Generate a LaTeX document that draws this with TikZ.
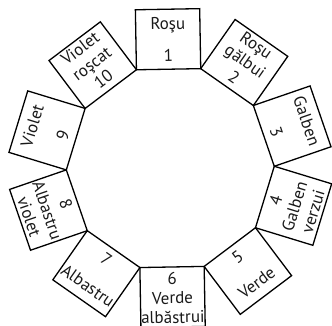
\documentclass[tikz,border=0pt]{standalone}
\usepackage{fontspec}
\setmainfont{PT Sans}
\begin{document}
\begin{tikzpicture}[x=1pt,y=1pt,
  swatch/.style={draw=black, line width=1.3pt, line join=miter,
    minimum width=64.3pt, minimum height=60pt, inner sep=0pt, outer sep=0pt},
  lbl/.style={font=\fontsize{17}{20}\selectfont, text=black!90,
    inner sep=0pt, text height=11pt, text depth=0pt}]
\useasboundingbox (0,0) rectangle (332,326);
\coordinate (c) at (170.3,157.9);
\begin{scope}[shift={(c)}]
  % boxes carrying a number and one word (apothem 98.9)
  \foreach \n/\t/\r/\wa in {1/91/1/Roşu, 3/19/-71/Galben, 5/-53/37/Verde,
                            7/-125/-35/Albastru, 9/163/73/Violet}{
    \node[swatch, rotate=\r] (box\n) at (\t:128.9pt) {};
    \node[lbl, rotate=\r] (num\n) at (\t:111.9pt) {\n};
    \node[lbl, rotate=\r] (wa\n) at (\t:144pt) {\wa};
  }
  % boxes carrying a number and two words
  \foreach \n/\t/\r/\wa/\wb in {2/55/-35/gălbui/Roşu, 4/-17/73/Galben/verzui,
                                6/-89/1/Verde/albăstrui, 8/-161/-71/Albastru/violet,
                                10/127/37/roşcat/Violet}{
    \node[swatch, rotate=\r] (box\n) at (\t:128.9pt) {};
    \node[lbl, rotate=\r] (num\n) at (\t:110.8pt) {\n};
    \node[lbl, rotate=\r] (wa\n) at (\t:130.3pt) {\wa};
    \node[lbl, rotate=\r] (wb\n) at (\t:149.6pt) {\wb};
  }
\end{scope}
\end{tikzpicture}
\end{document}
